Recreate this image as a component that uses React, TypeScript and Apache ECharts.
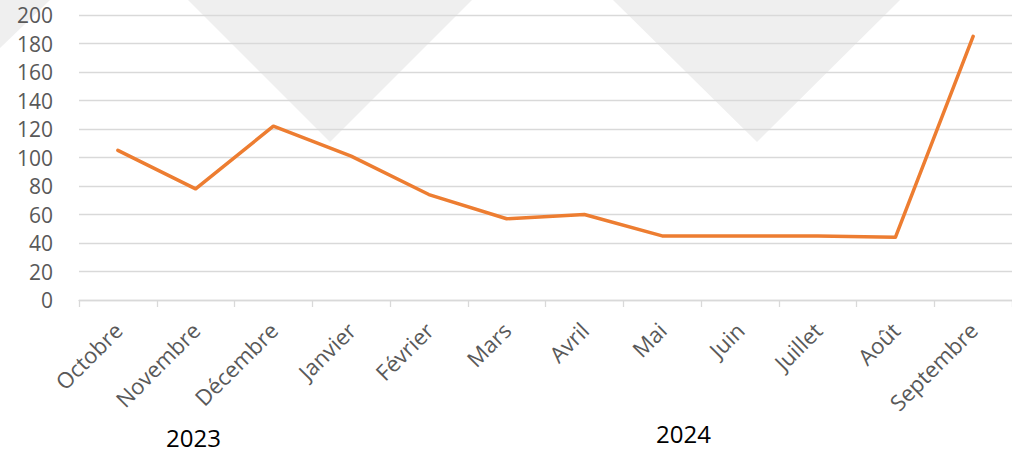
import React, { useEffect, useRef } from "react";
import * as echarts from "echarts";

const months = ["Octobre", "Novembre", "Décembre", "Janvier", "Février", "Mars", "Avril", "Mai", "Juin", "Juillet", "Août", "Septembre"];
const values = [105, 78, 122, 101, 74, 57, 60, 45, 45, 45, 44, 185];
const yearLabels = ["2023", "2024"];

export default function App() {
  const ref = useRef<HTMLDivElement>(null);
  useEffect(() => {
    if (!ref.current) return;
    const chart = echarts.init(ref.current, undefined, { renderer: "svg" });
    const tri = "#efefef";
    chart.setOption({
      animation: false,
      backgroundColor: "#ffffff",
      grid: { left: 79, top: 15, width: 936, height: 285, containLabel: false },
      xAxis: {
        type: "category",
        data: months,
        boundaryGap: true,
        axisLine: { show: true, lineStyle: { color: "#d9d9d9", width: 1.3 } },
        axisTick: { show: true, length: 7, lineStyle: { color: "#d9d9d9", width: 1.3 } },
        axisLabel: {
          rotate: 45,
          interval: 0,
          margin: 26,
          color: "#595959",
          fontSize: 22,
          fontFamily: "Open Sans",
        },
      },
      yAxis: {
        type: "value",
        min: 0,
        max: 200,
        interval: 20,
        axisLine: { show: false },
        axisTick: { show: false },
        splitLine: { lineStyle: { color: "#d9d9d9", width: 1.3 } },
        axisLabel: { color: "#595959", fontSize: 21, fontFamily: "Open Sans", margin: 26 },
      },
      graphic: [
        { type: "polygon", z: -10, silent: true, shape: { points: [[0, 0], [50, 0], [0, 48]] }, style: { fill: tri } },
        { type: "polygon", z: -10, silent: true, shape: { points: [[188, 0], [472, 0], [330, 142]] }, style: { fill: tri } },
        { type: "polygon", z: -10, silent: true, shape: { points: [[613, 0], [900, 0], [757, 142]] }, style: { fill: tri } },
        { type: "text", left: 166, top: 425, style: { text: yearLabels[0], fill: "#000000", fontSize: 24, fontFamily: "Open Sans" } },
        { type: "text", left: 656, top: 421, style: { text: yearLabels[1], fill: "#000000", fontSize: 24, fontFamily: "Open Sans" } },
      ],
      series: [
        {
          type: "line",
          data: values,
          symbol: "none",
          lineStyle: { color: "#ED7D31", width: 3.5, cap: "round", join: "round" },
          itemStyle: { color: "#ED7D31" },
        },
      ],
    });
    return () => chart.dispose();
  }, []);
  return <div ref={ref} style={{ position: "absolute", left: 0, top: 0, width: 1012, height: 455 }} />;
}
